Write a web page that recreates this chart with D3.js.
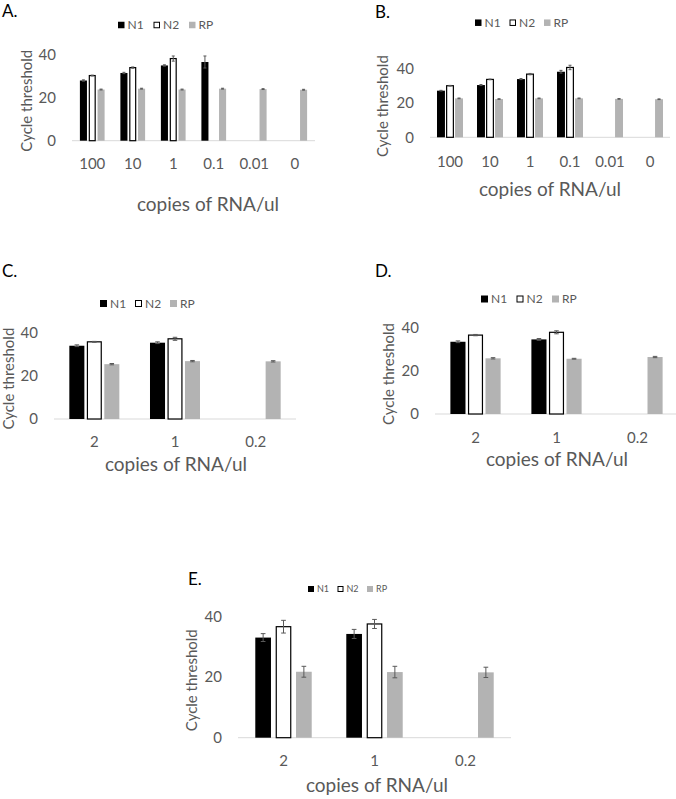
<!DOCTYPE html>
<html>
<head>
<meta charset="utf-8">
<script src="https://cdn.jsdelivr.net/npm/d3@7"></script>
<style>
  html, body { margin: 0; padding: 0; background: #ffffff; }
  svg { display: block; }
  text { font-family: Lato, "Open Sans", "DejaVu Sans", sans-serif; }
</style>
</head>
<body>
<svg id="chart" width="676" height="799"></svg>
<script>
// ---------------- DATA ----------------
const seriesNames = ["N1", "N2", "RP"];
const yTicks = [0, 20, 40];
const xTitle = "copies of RNA/ul";
const yTitle = "Cycle threshold";

// Panel A
const catsA = ["100", "10", "1", "0.1", "0.01", "0"];
const n1A = [28.0, 31.5, 35.0, 36.6, null, null];
const n2A = [30.3, 34.0, 38.2, null, null, null];
const rpA = [23.8, 24.2, 23.8, 24.2, 24.0, 23.7];
const n1ErrA = [0.3, 0.3, 0.3, 2.8, 0, 0];
const n2ErrA = [0.2, 0.3, 1.2, 0, 0, 0];
const rpErrA = [0.2, 0.2, 0.2, 0.2, 0.2, 0.2];

// Panel B
const catsB = ["100", "10", "1", "0.1", "0.01", "0"];
const n1B = [27.3, 30.6, 34.1, 38.4, null, null];
const n2B = [30.2, 33.9, 37.0, 40.9, null, null];
const rpB = [22.8, 22.4, 22.8, 22.8, 22.5, 22.3];
const n1ErrB = [0.2, 0.3, 0.3, 0.8, 0, 0];
const n2ErrB = [0.2, 0.2, 0.4, 1.3, 0, 0];
const rpErrB = [0.2, 0.2, 0.2, 0.2, 0.2, 0.2];

// Panel C
const catsC = ["2", "1", "0.2"];
const n1C = [33.8, 35.2, null];
const n2C = [35.6, 37.0, null];
const rpC = [25.3, 26.7, 26.6];
const n1ErrC = [0.4, 0.4, 0];
const n2ErrC = [0.2, 0.7, 0];
const rpErrC = [0.3, 0.3, 0.3];

// Panel D
const catsD = ["2", "1", "0.2"];
const n1D = [33.6, 34.7, null];
const n2D = [36.7, 38.0, null];
const rpD = [25.9, 25.7, 26.5];
const n1ErrD = [0.4, 0.4, 0];
const n2ErrD = [0.3, 0.7, 0];
const rpErrD = [0.3, 0.2, 0.3];

// Panel E
const catsE = ["2", "1", "0.2"];
const n1E = [33.1, 34.3, null];
const n2E = [36.7, 37.6, null];
const rpE = [21.8, 21.7, 21.6];
const n1ErrE = [1.3, 1.5, 0];
const n2ErrE = [2.1, 1.5, 0];
const rpErrE = [1.8, 1.9, 1.7];

// ---------------- STYLE / LAYOUT ----------------
const fills = { N1: "#000000", N2: "#ffffff", RP: "#b3b3b3" };
const strokes = { N1: "#000000", N2: "#000000", RP: "none" };
const textGray = "#595959";
const axisGray = "#d9d9d9";
const errGray = "#595959";

const panels = [
  { label: "A.", labelX: 2, labelY: 16.5, cats: catsA, vals: [n1A, n2A, rpA], errs: [n1ErrA, n2ErrA, rpErrA],
    left: 72, right: 315, base: 140.7, top40: 54.7, groupFrac: 0.61, pad: 0.2,
    legX: 118, legStep: 35.5, legY: 25, legSq: 6.5, legFont: 12,
    yTitleX: 27, xTitleX: 208, xTitleY: 211, tickDy: 23 },
  { label: "B.", labelX: 375, labelY: 18, cats: catsB, vals: [n1B, n2B, rpB], errs: [n1ErrB, n2ErrB, rpErrB],
    left: 430, right: 670, base: 137.3, top40: 69, groupFrac: 0.65, pad: 0.12,
    legX: 475, legStep: 34.5, legY: 22.7, legSq: 6.5, legFont: 12,
    yTitleX: 383, xTitleX: 550, xTitleY: 196, tickDy: 24 },
  { label: "C.", labelX: 2, labelY: 277, cats: catsC, vals: [n1C, n2C, rpC], errs: [n1ErrC, n2ErrC, rpErrC],
    left: 54, right: 296, base: 419, top40: 332.3, groupFrac: 0.62, pad: 0.14,
    legX: 100, legStep: 35, legY: 303.5, legSq: 7, legFont: 12,
    yTitleX: 9, xTitleX: 176, xTitleY: 471, tickDy: 23 },
  { label: "D.", labelX: 375, labelY: 277, cats: catsD, vals: [n1D, n2D, rpD], errs: [n1ErrD, n2ErrD, rpErrD],
    left: 435, right: 678, base: 414, top40: 328, groupFrac: 0.62, pad: 0.14,
    legX: 481, legStep: 35.5, legY: 299, legSq: 7, legFont: 12,
    yTitleX: 389, xTitleX: 557, xTitleY: 466, tickDy: 24 },
  { label: "E.", labelX: 188, labelY: 585, cats: catsE, vals: [n1E, n2E, rpE], errs: [n1ErrE, n2ErrE, rpErrE],
    left: 238, right: 511, base: 737.7, top40: 616.7, groupFrac: 0.62, pad: 0.23,
    legX: 308, legStep: 29.5, legY: 589, legSq: 6, legFont: 9,
    yTitleX: 192, xTitleX: 377, xTitleY: 792, tickDy: 23 }
];

const svg = d3.select("#chart");

panels.forEach(p => {
  const g = svg.append("g");

  // panel label
  g.append("text")
    .attr("x", p.labelX).attr("y", p.labelY)
    .attr("font-size", 17).attr("fill", "#000")
    .text(p.label);

  const x0 = d3.scaleBand().domain(p.cats).range([p.left, p.right]).padding(0);
  const bw = x0.bandwidth();
  const off = bw * (1 - p.groupFrac) / 2;
  const x1 = d3.scaleBand().domain(seriesNames).range([off, bw - off]).paddingInner(p.pad).paddingOuter(0);
  const y = d3.scaleLinear().domain([0, 40]).range([p.base, p.top40]);

  // baseline
  g.append("line")
    .attr("x1", p.left).attr("x2", p.right)
    .attr("y1", y(0)).attr("y2", y(0))
    .attr("stroke", axisGray).attr("stroke-width", 1);

  // y tick labels
  g.selectAll(".ytick").data(yTicks).join("text")
    .attr("class", "ytick")
    .attr("x", p.left - 16)
    .attr("y", d => y(d))
    .attr("dy", "0.35em")
    .attr("text-anchor", "end")
    .attr("font-size", 15).attr("fill", textGray)
    .text(d => d);

  // x tick labels
  g.selectAll(".xtick").data(p.cats).join("text")
    .attr("class", "xtick")
    .attr("x", d => x0(d) + bw / 2)
    .attr("y", y(0) + p.tickDy)
    .attr("dy", "0.35em")
    .attr("text-anchor", "middle")
    .attr("font-size", 15).attr("fill", textGray)
    .text(d => d);

  // bars
  const rows = [];
  p.cats.forEach((c, i) => {
    seriesNames.forEach((s, k) => {
      const v = p.vals[k][i];
      if (v !== null && v !== undefined) rows.push({ cat: c, s: s, v: v, e: p.errs[k][i] });
    });
  });

  g.selectAll(".bar").data(rows).join("rect")
    .attr("class", "bar")
    .attr("x", d => x0(d.cat) + x1(d.s) + (d.s === "N2" ? 0.6 : 0))
    .attr("width", d => x1.bandwidth() - (d.s === "N2" ? 1.2 : 0))
    .attr("y", d => y(d.v))
    .attr("height", d => y(0) - y(d.v))
    .attr("fill", d => fills[d.s])
    .attr("stroke", d => strokes[d.s])
    .attr("stroke-width", d => d.s === "N2" ? 1.2 : 0);

  // error bars
  const eg = g.selectAll(".err").data(rows.filter(d => d.e > 0)).join("g").attr("class", "err");
  const cx = d => x0(d.cat) + x1(d.s) + x1.bandwidth() / 2;
  const cap = Math.max(3, x1.bandwidth() * 0.3);
  eg.append("line")
    .attr("x1", cx).attr("x2", cx)
    .attr("y1", d => y(d.v + d.e)).attr("y2", d => y(d.v - d.e))
    .attr("stroke", errGray).attr("stroke-width", 1);
  eg.append("line")
    .attr("x1", d => cx(d) - cap / 2).attr("x2", d => cx(d) + cap / 2)
    .attr("y1", d => y(d.v + d.e)).attr("y2", d => y(d.v + d.e))
    .attr("stroke", errGray).attr("stroke-width", 1);
  eg.append("line")
    .attr("x1", d => cx(d) - cap / 2).attr("x2", d => cx(d) + cap / 2)
    .attr("y1", d => y(d.v - d.e)).attr("y2", d => y(d.v - d.e))
    .attr("stroke", errGray).attr("stroke-width", 1);

  // legend
  const lg = g.selectAll(".leg").data(seriesNames).join("g")
    .attr("class", "leg")
    .attr("transform", (d, i) => `translate(${p.legX + i * p.legStep},${p.legY})`);
  lg.append("rect")
    .attr("x", d => d === "N2" ? 0.5 : 0)
    .attr("y", d => -p.legSq / 2 + (d === "N2" ? 0.5 : 0))
    .attr("width", d => p.legSq - (d === "N2" ? 1 : 0))
    .attr("height", d => p.legSq - (d === "N2" ? 1 : 0))
    .attr("fill", d => fills[d])
    .attr("stroke", d => strokes[d])
    .attr("stroke-width", d => d === "N2" ? 1 : 0);
  lg.append("text")
    .attr("x", p.legSq + 3)
    .attr("y", 0)
    .attr("dy", "0.35em")
    .attr("font-size", p.legFont).attr("fill", textGray)
    .text(d => d);

  // y title
  g.append("text")
    .attr("transform", `translate(${p.yTitleX},${(p.base + p.top40) / 2 + 3}) rotate(-90)`)
    .attr("text-anchor", "middle")
    .attr("dy", "0.35em")
    .attr("font-size", 15).attr("fill", textGray)
    .text(yTitle);

  // x title
  g.append("text")
    .attr("x", p.xTitleX).attr("y", p.xTitleY)
    .attr("text-anchor", "middle")
    .attr("font-size", 19).attr("fill", textGray)
    .text(xTitle);
});
</script>
</body>
</html>
